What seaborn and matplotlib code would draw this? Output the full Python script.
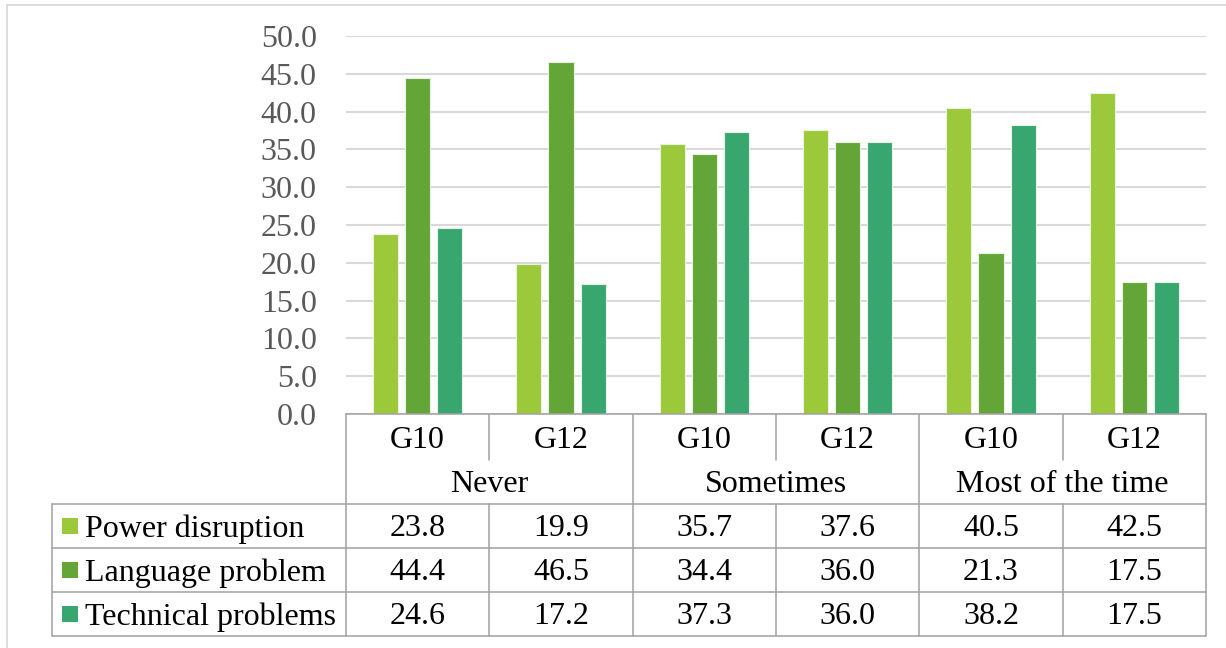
import numpy as np
import pandas as pd
import seaborn as sns
import matplotlib.pyplot as plt
import matplotlib.transforms as mtransforms
from matplotlib.lines import Line2D
from matplotlib.patches import Rectangle

# ---- data -------------------------------------------------------------
frequency = ["Never", "Sometimes", "Most of the time"]
grades = ["G10", "G12"]
series = ["Power disruption", "Language problem", "Technical problems"]
power = [23.8, 19.9, 35.7, 37.6, 40.5, 42.5]
language = [44.4, 46.5, 34.4, 36.0, 21.3, 17.5]
technical = [24.6, 17.2, 37.3, 36.0, 38.2, 17.5]
yticks = [0, 5, 10, 15, 20, 25, 30, 35, 40, 45, 50]
colors = ["#9BC93A", "#63A537", "#37A76F"]

values = {"Power disruption": power,
          "Language problem": language,
          "Technical problems": technical}
cats = [f"{f}|{g}" for f in frequency for g in grades]
rows = []
for s in series:
    for c, v in zip(cats, values[s]):
        rows.append({"cat": c, "series": s, "value": v})
df = pd.DataFrame(rows)

# ---- style ------------------------------------------------------------
sns.set_theme(style="white")
plt.rcParams["font.family"] = ["Liberation Serif", "DejaVu Serif"]

W, H = 1226, 648
fig = plt.figure(figsize=(W / 100, H / 100), dpi=100)
ax_left, ax_right, ax_top, ax_bottom = 346, 1206, 36, 414
ax = fig.add_axes([ax_left / W, 1 - ax_bottom / H,
                   (ax_right - ax_left) / W, (ax_bottom - ax_top) / H])

sns.barplot(data=df, x="cat", y="value", hue="series", order=cats,
            hue_order=series, palette=colors, saturation=1,
            width=0.672, gap=0.22, edgecolor="#E8F2E0", linewidth=0.8,
            errorbar=None, legend=False, ax=ax, zorder=3)

ax.set_xlim(-0.5, len(cats) - 0.5)
ax.set_ylim(0, 50)
ax.set_xticks([])
ax.set_xlabel("")
ax.set_ylabel("")
ax.set_yticks(yticks)
ax.set_yticklabels([f"{v:.1f}" for v in yticks])
ax.tick_params(axis="y", length=0, pad=21, labelsize=23, labelcolor="#595959")
ax.yaxis.grid(True, color="#D9D9D9", linewidth=1.5)
ax.set_axisbelow(True)
for sp in ax.spines.values():
    sp.set_visible(False)

# ---- data table under the bars ------------------------------------------
# pixel coordinates measured from the top-left corner of the figure
px = mtransforms.Affine2D().scale(1 / W, -1 / H).translate(0, 1) + fig.transFigure


def col_x(x):
    """x position (pixels) of a category-axis coordinate."""
    return ax_left + (x + 0.5) * (ax_right - ax_left) / len(cats)


line_kw = dict(color="#A0A0A0", linewidth=1.1, transform=px)
legend_left = 52
row_grade, row_freq = (414, 460), (460, 504)
data_rows = [(504, 548), (548, 592), (592, 636)]
table_bottom = data_rows[-1][1]

# horizontal rules
fig.add_artist(Line2D([ax_left, ax_right], [414, 414], **line_kw))
for y in [504, 548, 592, 636]:
    fig.add_artist(Line2D([legend_left, ax_right], [y, y], **line_kw))
# vertical rules
fig.add_artist(Line2D([legend_left, legend_left], [504, table_bottom], **line_kw))
for k in range(len(cats) + 1):
    x = col_x(k - 0.5)
    if k % 2 == 0:
        fig.add_artist(Line2D([x, x], [414, table_bottom], **line_kw))
    else:
        fig.add_artist(Line2D([x, x], [414, row_grade[1]], **line_kw))
        fig.add_artist(Line2D([x, x], [504, table_bottom], **line_kw))

dy = 3
text_kw = dict(transform=px, fontsize=23, color="black", ha="center", va="center")
for i, c in enumerate(cats):
    fig.text(col_x(i), sum(row_grade) / 2 + dy, c.split("|")[1], **text_kw)
for j, f in enumerate(frequency):
    fig.text(col_x(2 * j + 0.5), sum(row_freq) / 2 + dy, f, **text_kw)
for s, color, (y0, y1) in zip(series, colors, data_rows):
    yc = (y0 + y1) / 2
    fig.add_artist(Rectangle((62, yc - 8), 16, 16, facecolor=color,
                             edgecolor="none", transform=px))
    fig.text(85, yc + dy, s, transform=px, fontsize=23, color="black",
             ha="left", va="center")
    for i, v in enumerate(values[s]):
        fig.text(col_x(i), yc + dy, f"{v:.1f}", **text_kw)

# light frame around the chart area
frame_kw = dict(color="#D9D9D9", linewidth=1.3, transform=px)
fig.add_artist(Line2D([7, W], [5, 5], **frame_kw))
fig.add_artist(Line2D([7, 7], [5, H], **frame_kw))

fig.savefig("out.png", dpi=100)
